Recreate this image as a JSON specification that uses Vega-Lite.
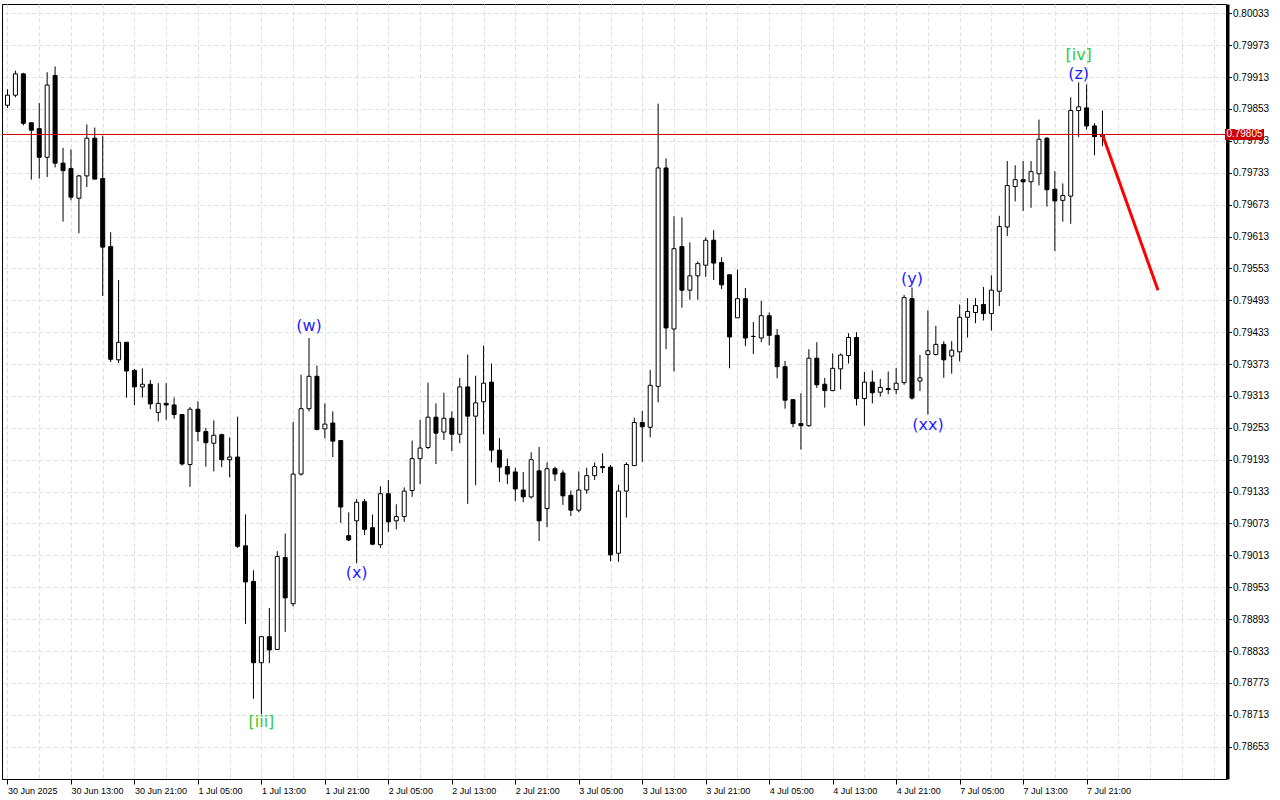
{
  "$schema": "https://vega.github.io/schema/vega-lite/v6.json",
  "width": 1224,
  "height": 775,
  "autosize": {"type": "none"},
  "padding": {"left": 2, "top": 4, "right": 54, "bottom": 21},
  "background": "white",
  "config": {
    "view": {"stroke": "black", "strokeWidth": 1},
    "axis": {"labelOverlap": false, "labelBound": false, "labelFlush": false, "title": null}
  },
  "datasets": {
    "candles": [
      {"i":0,"o":0.79860,"h":0.79890,"l":0.79855,"c":0.79879},
      {"i":1,"o":0.79879,"h":0.79925,"l":0.79875,"c":0.79919},
      {"i":2,"o":0.79919,"h":0.79921,"l":0.79822,"c":0.79826},
      {"i":3,"o":0.79827,"h":0.79827,"l":0.79720,"c":0.79813},
      {"i":4,"o":0.79816,"h":0.79864,"l":0.79722,"c":0.79762},
      {"i":5,"o":0.79762,"h":0.79922,"l":0.79725,"c":0.79898},
      {"i":6,"o":0.79916,"h":0.79933,"l":0.79743,"c":0.79751},
      {"i":7,"o":0.79751,"h":0.79780,"l":0.79641,"c":0.79737},
      {"i":8,"o":0.79741,"h":0.79777,"l":0.79681,"c":0.79687},
      {"i":9,"o":0.79685,"h":0.79729,"l":0.79619,"c":0.79727},
      {"i":10,"o":0.79727,"h":0.79824,"l":0.79706,"c":0.79798},
      {"i":11,"o":0.79798,"h":0.79818,"l":0.79721,"c":0.79721},
      {"i":12,"o":0.79722,"h":0.79803,"l":0.79501,"c":0.79593},
      {"i":13,"o":0.79594,"h":0.79621,"l":0.79377,"c":0.79382},
      {"i":14,"o":0.79381,"h":0.79531,"l":0.79375,"c":0.79414},
      {"i":15,"o":0.79414,"h":0.79414,"l":0.79310,"c":0.79360},
      {"i":16,"o":0.79361,"h":0.79364,"l":0.79296,"c":0.79330},
      {"i":17,"o":0.79330,"h":0.79365,"l":0.79310,"c":0.79335},
      {"i":18,"o":0.79335,"h":0.79343,"l":0.79288,"c":0.79298},
      {"i":19,"o":0.79282,"h":0.79337,"l":0.79265,"c":0.79299},
      {"i":20,"o":0.79299,"h":0.79337,"l":0.79268,"c":0.79296},
      {"i":21,"o":0.79296,"h":0.79310,"l":0.79270,"c":0.79278},
      {"i":22,"o":0.79278,"h":0.79278,"l":0.79182,"c":0.79185},
      {"i":23,"o":0.79184,"h":0.79292,"l":0.79142,"c":0.79288},
      {"i":24,"o":0.79288,"h":0.79303,"l":0.79228,"c":0.79246},
      {"i":25,"o":0.79246,"h":0.79253,"l":0.79180,"c":0.79225},
      {"i":26,"o":0.79224,"h":0.79267,"l":0.79171,"c":0.79239},
      {"i":27,"o":0.79240,"h":0.79242,"l":0.79179,"c":0.79193},
      {"i":28,"o":0.79193,"h":0.79235,"l":0.79160,"c":0.79198},
      {"i":29,"o":0.79198,"h":0.79274,"l":0.79027,"c":0.79030},
      {"i":30,"o":0.79031,"h":0.79090,"l":0.78884,"c":0.78963},
      {"i":31,"o":0.78964,"h":0.78985,"l":0.78743,"c":0.78811},
      {"i":32,"o":0.78811,"h":0.78860,"l":0.78714,"c":0.78860},
      {"i":33,"o":0.78860,"h":0.78914,"l":0.78810,"c":0.78835},
      {"i":34,"o":0.78836,"h":0.79021,"l":0.78835,"c":0.79011},
      {"i":35,"o":0.79009,"h":0.79054,"l":0.78869,"c":0.78933},
      {"i":36,"o":0.78922,"h":0.79264,"l":0.78917,"c":0.79166},
      {"i":37,"o":0.79166,"h":0.79353,"l":0.79163,"c":0.79289},
      {"i":38,"o":0.79289,"h":0.79422,"l":0.79284,"c":0.79350},
      {"i":39,"o":0.79350,"h":0.79370,"l":0.79248,"c":0.79250},
      {"i":40,"o":0.79251,"h":0.79299,"l":0.79233,"c":0.79260},
      {"i":41,"o":0.79262,"h":0.79284,"l":0.79198,"c":0.79228},
      {"i":42,"o":0.79229,"h":0.79229,"l":0.79074,"c":0.79104},
      {"i":43,"o":0.79050,"h":0.79094,"l":0.79040,"c":0.79042},
      {"i":44,"o":0.79078,"h":0.79119,"l":0.78998,"c":0.79113},
      {"i":45,"o":0.79114,"h":0.79119,"l":0.79051,"c":0.79062},
      {"i":46,"o":0.79065,"h":0.79090,"l":0.79032,"c":0.79034},
      {"i":47,"o":0.79033,"h":0.79143,"l":0.79027,"c":0.79129},
      {"i":48,"o":0.79129,"h":0.79155,"l":0.79057,"c":0.79076},
      {"i":49,"o":0.79078,"h":0.79109,"l":0.79062,"c":0.79086},
      {"i":50,"o":0.79086,"h":0.79141,"l":0.79076,"c":0.79134},
      {"i":51,"o":0.79135,"h":0.79229,"l":0.79123,"c":0.79195},
      {"i":52,"o":0.79195,"h":0.79268,"l":0.79147,"c":0.79215},
      {"i":53,"o":0.79216,"h":0.79338,"l":0.79213,"c":0.79273},
      {"i":54,"o":0.79273,"h":0.79299,"l":0.79185,"c":0.79243},
      {"i":55,"o":0.79245,"h":0.79319,"l":0.79230,"c":0.79271},
      {"i":56,"o":0.79271,"h":0.79284,"l":0.79209,"c":0.79241},
      {"i":57,"o":0.79241,"h":0.79347,"l":0.79224,"c":0.79330},
      {"i":58,"o":0.79330,"h":0.79391,"l":0.79110,"c":0.79275},
      {"i":59,"o":0.79275,"h":0.79351,"l":0.79145,"c":0.79300},
      {"i":60,"o":0.79302,"h":0.79408,"l":0.79241,"c":0.79337},
      {"i":61,"o":0.79339,"h":0.79374,"l":0.79188,"c":0.79211},
      {"i":62,"o":0.79211,"h":0.79234,"l":0.79151,"c":0.79179},
      {"i":63,"o":0.79180,"h":0.79195,"l":0.79147,"c":0.79166},
      {"i":64,"o":0.79170,"h":0.79178,"l":0.79115,"c":0.79138},
      {"i":65,"o":0.79136,"h":0.79170,"l":0.79113,"c":0.79123},
      {"i":66,"o":0.79123,"h":0.79207,"l":0.79120,"c":0.79193},
      {"i":67,"o":0.79172,"h":0.79217,"l":0.79040,"c":0.79078},
      {"i":68,"o":0.79101,"h":0.79188,"l":0.79066,"c":0.79176},
      {"i":69,"o":0.79176,"h":0.79180,"l":0.79153,"c":0.79166},
      {"i":70,"o":0.79168,"h":0.79173,"l":0.79108,"c":0.79125},
      {"i":71,"o":0.79126,"h":0.79135,"l":0.79087,"c":0.79098},
      {"i":72,"o":0.79098,"h":0.79171,"l":0.79094,"c":0.79136},
      {"i":73,"o":0.79136,"h":0.79178,"l":0.79129,"c":0.79163},
      {"i":74,"o":0.79163,"h":0.79188,"l":0.79155,"c":0.79180},
      {"i":75,"o":0.79180,"h":0.79205,"l":0.79168,"c":0.79178},
      {"i":76,"o":0.79179,"h":0.79183,"l":0.79002,"c":0.79014},
      {"i":77,"o":0.79017,"h":0.79146,"l":0.79001,"c":0.79134},
      {"i":78,"o":0.79134,"h":0.79188,"l":0.79084,"c":0.79184},
      {"i":79,"o":0.79182,"h":0.79272,"l":0.79181,"c":0.79263},
      {"i":80,"o":0.79263,"h":0.79285,"l":0.79189,"c":0.79255},
      {"i":81,"o":0.79254,"h":0.79362,"l":0.79235,"c":0.79333},
      {"i":82,"o":0.79331,"h":0.79863,"l":0.79301,"c":0.79742},
      {"i":83,"o":0.79742,"h":0.79760,"l":0.79401,"c":0.79441},
      {"i":84,"o":0.79439,"h":0.79651,"l":0.79359,"c":0.79590},
      {"i":85,"o":0.79594,"h":0.79649,"l":0.79479,"c":0.79512},
      {"i":86,"o":0.79512,"h":0.79602,"l":0.79494,"c":0.79539},
      {"i":87,"o":0.79539,"h":0.79566,"l":0.79494,"c":0.79562},
      {"i":88,"o":0.79559,"h":0.79611,"l":0.79537,"c":0.79606},
      {"i":89,"o":0.79606,"h":0.79625,"l":0.79531,"c":0.79563},
      {"i":90,"o":0.79564,"h":0.79574,"l":0.79514,"c":0.79522},
      {"i":91,"o":0.79541,"h":0.79541,"l":0.79365,"c":0.79424},
      {"i":92,"o":0.79460,"h":0.79551,"l":0.79460,"c":0.79496},
      {"i":93,"o":0.79496,"h":0.79516,"l":0.79407,"c":0.79422},
      {"i":94,"o":0.79425,"h":0.79452,"l":0.79392,"c":0.79425},
      {"i":95,"o":0.79422,"h":0.79492,"l":0.79414,"c":0.79464},
      {"i":96,"o":0.79464,"h":0.79470,"l":0.79408,"c":0.79427},
      {"i":97,"o":0.79427,"h":0.79439,"l":0.79346,"c":0.79368},
      {"i":98,"o":0.79368,"h":0.79379,"l":0.79289,"c":0.79305},
      {"i":99,"o":0.79306,"h":0.79306,"l":0.79254,"c":0.79261},
      {"i":100,"o":0.79261,"h":0.79318,"l":0.79212,"c":0.79257},
      {"i":101,"o":0.79257,"h":0.79401,"l":0.79255,"c":0.79384},
      {"i":102,"o":0.79384,"h":0.79414,"l":0.79328,"c":0.79334},
      {"i":103,"o":0.79335,"h":0.79347,"l":0.79291,"c":0.79323},
      {"i":104,"o":0.79323,"h":0.79393,"l":0.79322,"c":0.79365},
      {"i":105,"o":0.79364,"h":0.79393,"l":0.79325,"c":0.79390},
      {"i":106,"o":0.79389,"h":0.79431,"l":0.79374,"c":0.79423},
      {"i":107,"o":0.79423,"h":0.79433,"l":0.79295,"c":0.79308},
      {"i":108,"o":0.79308,"h":0.79358,"l":0.79257,"c":0.79339},
      {"i":109,"o":0.79339,"h":0.79361,"l":0.79299,"c":0.79319},
      {"i":110,"o":0.79320,"h":0.79345,"l":0.79312,"c":0.79329},
      {"i":111,"o":0.79327,"h":0.79359,"l":0.79316,"c":0.79325},
      {"i":112,"o":0.79325,"h":0.79366,"l":0.79316,"c":0.79337},
      {"i":113,"o":0.79338,"h":0.79503,"l":0.79334,"c":0.79498},
      {"i":114,"o":0.79496,"h":0.79517,"l":0.79306,"c":0.79309},
      {"i":115,"o":0.79341,"h":0.79390,"l":0.79322,"c":0.79347},
      {"i":116,"o":0.79391,"h":0.79474,"l":0.79278,"c":0.79398},
      {"i":117,"o":0.79391,"h":0.79445,"l":0.79389,"c":0.79410},
      {"i":118,"o":0.79410,"h":0.79416,"l":0.79347,"c":0.79381},
      {"i":119,"o":0.79388,"h":0.79416,"l":0.79355,"c":0.79399},
      {"i":120,"o":0.79396,"h":0.79485,"l":0.79378,"c":0.79461},
      {"i":121,"o":0.79461,"h":0.79497,"l":0.79423,"c":0.79472},
      {"i":122,"o":0.79470,"h":0.79497,"l":0.79450,"c":0.79483},
      {"i":123,"o":0.79485,"h":0.79518,"l":0.79455,"c":0.79468},
      {"i":124,"o":0.79468,"h":0.79540,"l":0.79436,"c":0.79512},
      {"i":125,"o":0.79510,"h":0.79652,"l":0.79482,"c":0.79632},
      {"i":126,"o":0.79631,"h":0.79755,"l":0.79614,"c":0.79709},
      {"i":127,"o":0.79707,"h":0.79747,"l":0.79679,"c":0.79720},
      {"i":128,"o":0.79720,"h":0.79755,"l":0.79661,"c":0.79716},
      {"i":129,"o":0.79716,"h":0.79755,"l":0.79667,"c":0.79735},
      {"i":130,"o":0.79731,"h":0.79833,"l":0.79709,"c":0.79796},
      {"i":131,"o":0.79798,"h":0.79800,"l":0.79669,"c":0.79701},
      {"i":132,"o":0.79702,"h":0.79736,"l":0.79586,"c":0.79680},
      {"i":133,"o":0.79681,"h":0.79713,"l":0.79641,"c":0.79690},
      {"i":134,"o":0.79689,"h":0.79875,"l":0.79637,"c":0.79850},
      {"i":135,"o":0.79850,"h":0.79903,"l":0.79800,"c":0.79857},
      {"i":136,"o":0.79855,"h":0.79899,"l":0.79814,"c":0.79821},
      {"i":137,"o":0.79821,"h":0.79826,"l":0.79766,"c":0.79801},
      {"i":138,"o":0.79801,"h":0.79850,"l":0.79783,"c":0.79805}
    ],
    "waves": [
      {"label":"[iii]","i":32,"p":0.78700,"degree":"minute"},
      {"label":"(w)","i":38,"p":0.79445,"degree":"minuette"},
      {"label":"(x)","i":44,"p":0.78980,"degree":"minuette"},
      {"label":"(y)","i":114,"p":0.79533,"degree":"minuette"},
      {"label":"(xx)","i":116,"p":0.79258,"degree":"minuette"},
      {"label":"[iv]","i":135,"p":0.79955,"degree":"minute"},
      {"label":"(z)","i":135,"p":0.79918,"degree":"minuette"}
    ],
    "forecast": [
      {"i":138,"p":0.79805},
      {"i":145,"p":0.79512}
    ],
    "bid": [
      {"price":0.79805}
    ]
  },
  "layer": [
    {
      "data": {"name": "candles"},
      "mark": {"type": "rule", "color": "black", "strokeWidth": 1, "clip": true},
      "encoding": {
        "x": {
          "field": "i", "type": "quantitative",
          "scale": {"domain": [-0.0625, 152.94], "nice": false, "zero": false},
          "axis": {
            "title": null,
            "values": [0,4,8,12,16,20,24,28,32,36,40,44,48,52,56,60,64,68,72,76,80,84,88,92,96,100,104,108,112,116,120,124,128,132,136,140,144,148,152],
            "tickCount": 200,
            "grid": true, "gridColor": "#DEDEDE", "gridDash": [4, 3], "gridWidth": 1,
            "domainColor": "black", "domainWidth": 1,
            "tickColor": {"condition": {"test": "datum.value % 8 === 0 && datum.value <= 136", "value": "black"}, "value": "rgba(0,0,0,0)"},
            "tickSize": 5, "tickWidth": 1,
            "labelExpr": "datum.value % 8 === 0 && datum.value <= 136 ? ['30 Jun 2025','30 Jun 13:00','30 Jun 21:00','1 Jul 05:00','1 Jul 13:00','1 Jul 21:00','2 Jul 05:00','2 Jul 13:00','2 Jul 21:00','3 Jul 05:00','3 Jul 13:00','3 Jul 21:00','4 Jul 05:00','4 Jul 13:00','4 Jul 21:00','7 Jul 05:00','7 Jul 13:00','7 Jul 21:00'][datum.value / 8] : ''",
            "labelAlign": "left", "labelBaseline": "top", "labelPadding": 2, "labelOffset": 0,
            "labelFont": "Liberation Sans", "labelFontSize": 9, "labelColor": "black",
            "labelOverlap": false, "labelBound": false, "labelFlush": false
          }
        },
        "y": {
          "field": "l", "type": "quantitative",
          "scale": {"domain": [0.785922, 0.800505], "nice": false, "zero": false},
          "axis": {
            "title": null, "orient": "right", "offset": 1.5,
            "values": [0.78653,0.78713,0.78773,0.78833,0.78893,0.78953,0.79013,0.79073,0.79133,0.79193,0.79253,0.79313,0.79373,0.79433,0.79493,0.79553,0.79613,0.79673,0.79733,0.79793,0.79853,0.79913,0.79973,0.80033],
            "tickCount": 200,
            "format": ".5f",
            "grid": true, "gridColor": "#DEDEDE", "gridDash": [4, 3], "gridWidth": 1,
            "domainColor": "black", "domainWidth": 3,
            "tickColor": "black", "tickSize": 4, "tickWidth": 1,
            "labelPadding": 1, "labelFont": "Liberation Sans", "labelFontSize": 10, "labelColor": "black",
            "labelBaseline": "middle",
            "labelOverlap": false, "labelBound": false, "labelFlush": false
          }
        },
        "y2": {"field": "h"}
      }
    },
    {
      "data": {"name": "candles"},
      "mark": {"type": "bar", "size": 4, "stroke": "black", "strokeWidth": 1, "clip": true},
      "encoding": {
        "x": {"field": "i", "type": "quantitative", "scale": {"domain": [-0.0625, 152.94], "nice": false, "zero": false}, "axis": {"title": null, "labelOverlap": false}},
        "y": {"field": "o", "type": "quantitative", "scale": {"domain": [0.785922, 0.800505], "nice": false, "zero": false}, "axis": {"title": null, "labelOverlap": false}},
        "y2": {"field": "c"},
        "fill": {"condition": {"test": "datum.c < datum.o", "value": "black"}, "value": "white"}
      }
    },
    {
      "data": {"name": "bid"},
      "mark": {"type": "rule", "color": "#CC0000", "strokeWidth": 1},
      "encoding": {
        "y": {"field": "price", "type": "quantitative", "scale": {"domain": [0.785922, 0.800505], "nice": false, "zero": false}, "axis": {"title": null, "labelOverlap": false}}
      }
    },
    {
      "data": {"name": "forecast"},
      "mark": {"type": "line", "color": "#FF0000", "strokeWidth": 3},
      "encoding": {
        "x": {"field": "i", "type": "quantitative", "scale": {"domain": [-0.0625, 152.94], "nice": false, "zero": false}, "axis": {"title": null, "labelOverlap": false}},
        "y": {"field": "p", "type": "quantitative", "scale": {"domain": [0.785922, 0.800505], "nice": false, "zero": false}, "axis": {"title": null, "labelOverlap": false}}
      }
    },
    {
      "data": {"name": "waves"},
      "mark": {"type": "text", "font": "DejaVu Sans", "fontSize": 16, "align": "center", "baseline": "middle"},
      "encoding": {
        "x": {"field": "i", "type": "quantitative", "scale": {"domain": [-0.0625, 152.94], "nice": false, "zero": false}, "axis": {"title": null, "labelOverlap": false}},
        "y": {"field": "p", "type": "quantitative", "scale": {"domain": [0.785922, 0.800505], "nice": false, "zero": false}, "axis": {"title": null, "labelOverlap": false}},
        "text": {"field": "label"},
        "color": {"field": "degree", "type": "nominal", "scale": {"domain": ["minute", "minuette"], "range": ["#33CC33", "#1E1EFF"]}, "legend": null}
      }
    },
    {
      "data": {"name": "bid"},
      "mark": {"type": "tick", "orient": "horizontal", "color": "#CC0000", "size": 39, "thickness": 11, "opacity": 1},
      "encoding": {
        "x": {"datum": 155.9, "type": "quantitative", "scale": {"domain": [-0.0625, 152.94], "nice": false, "zero": false}, "axis": {"title": null, "labelOverlap": false}},
        "y": {"field": "price", "type": "quantitative", "scale": {"domain": [0.785922, 0.800505], "nice": false, "zero": false}, "axis": {"title": null, "labelOverlap": false}}
      }
    },
    {
      "data": {"name": "bid"},
      "mark": {"type": "text", "color": "white", "font": "Liberation Sans", "fontSize": 10, "align": "center", "baseline": "middle"},
      "encoding": {
        "x": {"datum": 155.9, "type": "quantitative", "scale": {"domain": [-0.0625, 152.94], "nice": false, "zero": false}, "axis": {"title": null, "labelOverlap": false}},
        "y": {"field": "price", "type": "quantitative", "scale": {"domain": [0.785922, 0.800505], "nice": false, "zero": false}, "axis": {"title": null, "labelOverlap": false}},
        "text": {"field": "price", "type": "quantitative", "format": ".5f"}
      }
    }
  ]
}
